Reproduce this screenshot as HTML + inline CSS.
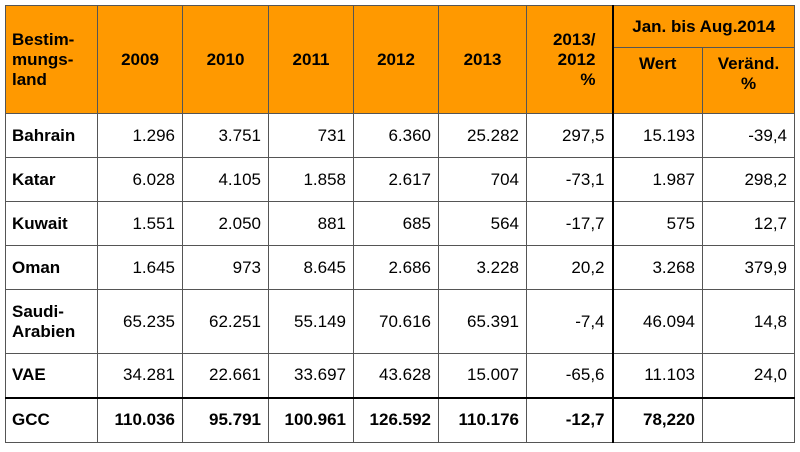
<!DOCTYPE html>
<html><head><meta charset="utf-8"><style>
body{margin:0;background:#fff;width:800px;height:452px;overflow:hidden;font-family:"Liberation Sans",Arial,sans-serif}
table{position:absolute;left:5px;top:5px;border-collapse:collapse;table-layout:fixed;font-size:17px;color:#000}
td{border:1px solid #555;padding:0 7px;text-align:right;box-sizing:border-box}
th{border:1px solid #555;background:#ff9900;font-weight:bold;text-align:center;padding:0 3px;line-height:20px}
td.l{text-align:left;font-weight:bold;line-height:20px;padding-left:6px}
tr.g td{font-weight:bold;border-top:2px solid #000}
.tk{border-left:2px solid #000}
</style></head><body>
<table>
<colgroup><col style="width:92px"><col style="width:85px"><col style="width:86px"><col style="width:85px"><col style="width:85px"><col style="width:88px"><col style="width:86px"><col style="width:90px"><col style="width:92px"></colgroup>
<tr style="height:42px"><th rowspan="2" style="text-align:left;padding-left:6px">Bestim-<br>mungs-<br>land</th><th rowspan="2">2009</th><th rowspan="2">2010</th><th rowspan="2">2011</th><th rowspan="2">2012</th><th rowspan="2">2013</th><th rowspan="2" style="text-align:right;padding-right:16px">2013/<br>2012<br>%</th><th colspan="2" class="tk">Jan. bis Aug.2014</th></tr>
<tr style="height:66px"><th class="tk" style="vertical-align:top;padding-top:6px">Wert</th><th style="vertical-align:top;padding-top:6px">Veränd.<br>%</th></tr>
<tr style="height:44px"><td class="l">Bahrain</td><td>1.296</td><td>3.751</td><td>731</td><td>6.360</td><td>25.282</td><td>297,5</td><td class="tk">15.193</td><td>-39,4</td></tr>
<tr style="height:44px"><td class="l">Katar</td><td>6.028</td><td>4.105</td><td>1.858</td><td>2.617</td><td>704</td><td>-73,1</td><td class="tk">1.987</td><td>298,2</td></tr>
<tr style="height:44px"><td class="l">Kuwait</td><td>1.551</td><td>2.050</td><td>881</td><td>685</td><td>564</td><td>-17,7</td><td class="tk">575</td><td>12,7</td></tr>
<tr style="height:44px"><td class="l">Oman</td><td>1.645</td><td>973</td><td>8.645</td><td>2.686</td><td>3.228</td><td>20,2</td><td class="tk">3.268</td><td>379,9</td></tr>
<tr style="height:64px"><td class="l">Saudi-<br>Arabien</td><td>65.235</td><td>62.251</td><td>55.149</td><td>70.616</td><td>65.391</td><td>-7,4</td><td class="tk">46.094</td><td>14,8</td></tr>
<tr style="height:44px"><td class="l">VAE</td><td>34.281</td><td>22.661</td><td>33.697</td><td>43.628</td><td>15.007</td><td>-65,6</td><td class="tk">11.103</td><td>24,0</td></tr>
<tr class="g" style="height:45px"><td class="l">GCC</td><td>110.036</td><td>95.791</td><td>100.961</td><td>126.592</td><td>110.176</td><td>-12,7</td><td class="tk">78,220</td><td></td></tr>
</table>
</body></html>
